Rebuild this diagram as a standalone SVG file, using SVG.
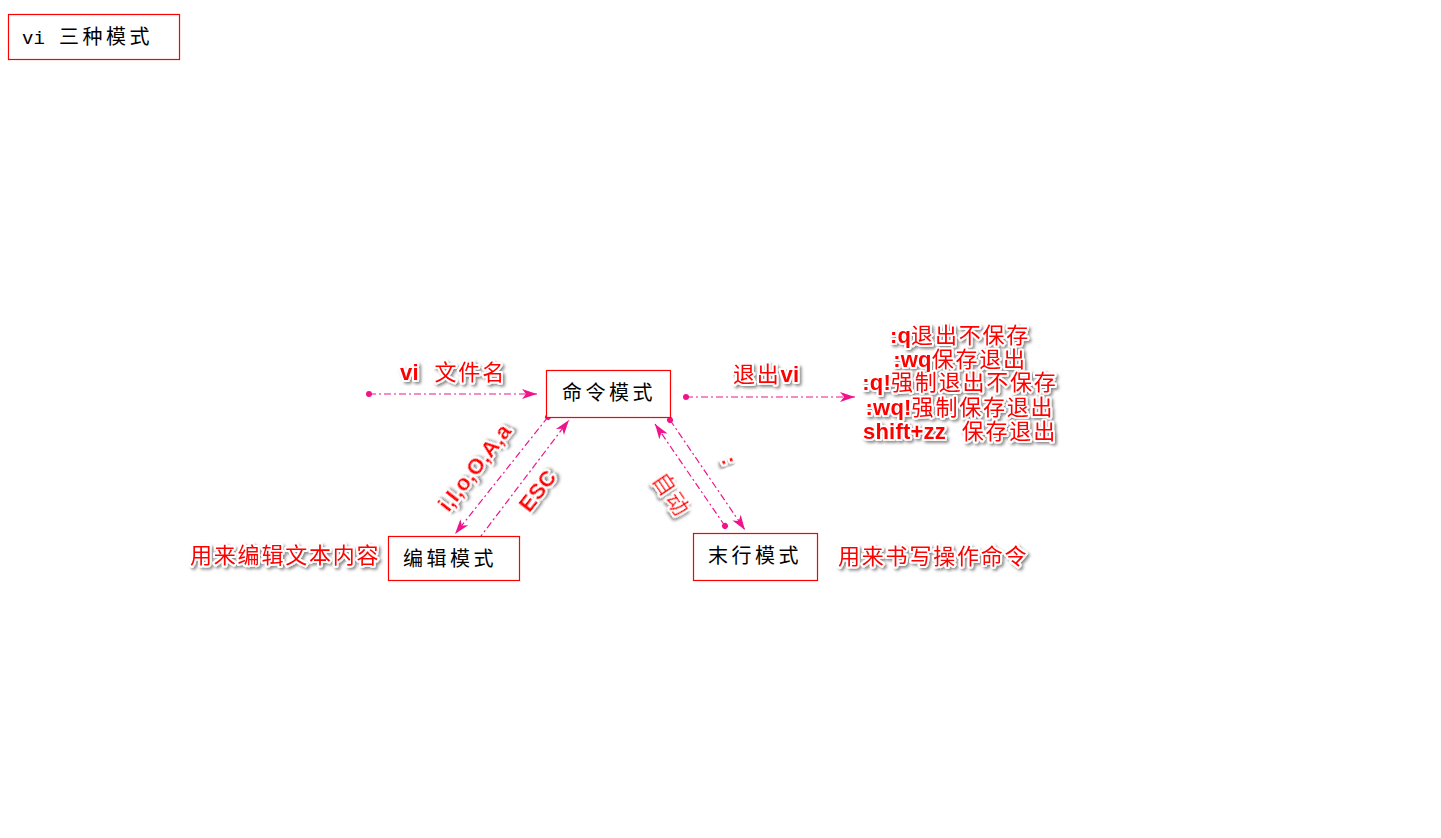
<svg xmlns="http://www.w3.org/2000/svg" width="1441" height="838" viewBox="0 0 1441 838">
<defs>
<style>
.box{fill:#fff;stroke:#ff0000;stroke-width:1.2}
.bt{font-family:"Noto Sans CJK SC","Liberation Sans",sans-serif;font-size:20px;letter-spacing:3.5px;fill:#000}
.conn{stroke:#f0148c;stroke-width:1.2;fill:none;stroke-dasharray:7 3 2 3}
.lbl{font-family:"Liberation Sans","Noto Sans CJK SC",sans-serif;font-size:22px;letter-spacing:1.8px;fill:#ff0000;stroke:#fff;stroke-width:4;stroke-linejoin:round;paint-order:stroke;filter:url(#sh)}
.b{font-weight:bold;letter-spacing:0.2px}
</style>
<filter id="sh" x="-20%" y="-40%" width="140%" height="180%">
<feGaussianBlur in="SourceAlpha" stdDeviation="1.5"/>
<feOffset dx="2" dy="2" result="o"/>
<feFlood flood-color="#000" flood-opacity="0.45"/>
<feComposite in2="o" operator="in" result="s"/>
<feMerge><feMergeNode in="s"/><feMergeNode in="SourceGraphic"/></feMerge>
</filter>
<marker id="ah" markerUnits="userSpaceOnUse" markerWidth="16" markerHeight="12" refX="15" refY="6" orient="auto">
<path d="M0,1 L15,6 L0,11 L4,6 z" fill="#f0148c"/>
</marker>
<marker id="dot" markerUnits="userSpaceOnUse" markerWidth="8" markerHeight="8" refX="4" refY="4" orient="auto">
<circle cx="4" cy="4" r="3" fill="#f0148c"/>
</marker>
</defs>
<rect width="1441" height="838" fill="#fff"/>

<g id="title">
<rect class="box" x="8.5" y="14.5" width="171" height="45"/>
<text x="22" y="44" style="font-family:'Liberation Mono','Noto Sans CJK SC',monospace;font-size:19px;fill:#000">vi <tspan style="font-family:'Noto Sans CJK SC',sans-serif;font-size:20px;letter-spacing:3.5px" x="59">三种模式</tspan></text>
</g>

<g id="connectors">
<line class="conn" x1="369" y1="394" x2="537" y2="394" marker-start="url(#dot)" marker-end="url(#ah)"/>
<line class="conn" x1="686" y1="397" x2="855" y2="397" marker-start="url(#dot)" marker-end="url(#ah)"/>
<line class="conn" x1="548" y1="417" x2="455" y2="534" marker-start="url(#dot)" marker-end="url(#ah)"/>
<line class="conn" x1="478" y1="540" x2="569" y2="420" marker-start="url(#dot)" marker-end="url(#ah)"/>
<line class="conn" x1="670" y1="420" x2="745" y2="530" marker-start="url(#dot)" marker-end="url(#ah)"/>
<line class="conn" x1="725" y1="526" x2="655" y2="424" marker-start="url(#dot)" marker-end="url(#ah)"/>
</g>

<g id="cmd">
<rect class="box" x="546.5" y="370.5" width="124" height="47"/>
<text class="bt" x="562" y="400">命令模式</text>
</g>
<g id="edit">
<rect class="box" x="388.5" y="536.5" width="131" height="44"/>
<text class="bt" x="403" y="566">编辑模式</text>
</g>
<g id="last">
<rect class="box" x="693.5" y="533.5" width="124" height="47"/>
<text class="bt" x="708" y="563">末行模式</text>
</g>

<g id="labels">
<text class="lbl" x="400" y="380"><tspan class="b">vi</tspan>&#160; 文件名</text>
<text class="lbl" x="733" y="382">退出<tspan class="b">vi</tspan></text>
<text class="lbl" text-anchor="middle" x="960" y="343"><tspan class="b">:q</tspan>退出不保存</text>
<text class="lbl" text-anchor="middle" x="960" y="367"><tspan class="b">:wq</tspan>保存退出</text>
<text class="lbl" text-anchor="middle" x="960" y="390"><tspan class="b">:q!</tspan>强制退出不保存</text>
<text class="lbl" text-anchor="middle" x="960" y="415"><tspan class="b">:wq!</tspan>强制保存退出</text>
<text class="lbl" text-anchor="middle" x="960" y="439"><tspan class="b">shift+zz</tspan>&#160; 保存退出</text>
<text class="lbl" x="190" y="563">用来编辑文本内容</text>
<text class="lbl" x="838" y="564">用来书写操作命令</text>
<text class="lbl b" text-anchor="middle" transform="translate(475,468) rotate(-52)" y="7">i,I,o,O,A,a</text>
<text class="lbl b" text-anchor="middle" transform="translate(538,491) rotate(-52)" y="7">ESC</text>
<text class="lbl" text-anchor="middle" transform="translate(671,495) rotate(56)" y="7">自动</text>
<text class="lbl b" text-anchor="middle" transform="translate(728,461) rotate(70)" y="6">:</text>
</g>
</svg>
